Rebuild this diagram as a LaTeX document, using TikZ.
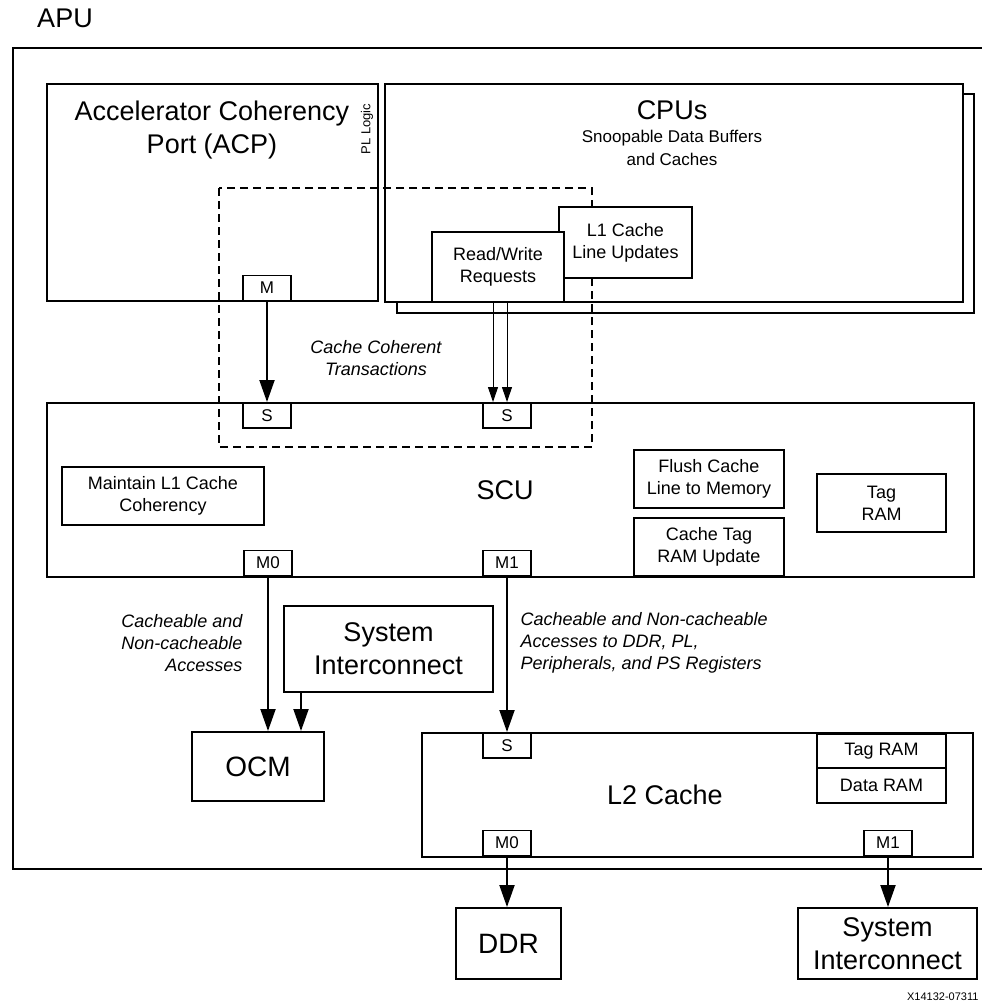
\documentclass[tikz,border=0pt]{standalone}
\usepackage{fontspec}
\setmainfont{Liberation Sans}
\usetikzlibrary{arrows.meta}

\begin{document}
\begin{tikzpicture}[
    x=1pt, y=-1pt,
    block/.style={draw, line width=2pt, fill=white, inner sep=0pt, anchor=north west, align=center},
    port/.style={draw, line width=1.5pt, fill=white, inner sep=0pt, minimum width=48pt, minimum height=25pt, font=\fontsize{17}{18}\selectfont},
    big/.style={font=\fontsize{27}{33}\selectfont, align=center},
    small/.style={font=\fontsize{18}{22}\selectfont},
    note/.style={font=\itshape\fontsize{18}{22}\selectfont},
    bus/.style={-{Triangle[length=22pt,width=15pt]}, line width=2pt},
    req/.style={-{Triangle[length=15pt,width=10pt]}, line width=1pt}
]
\clip (0,0) rectangle (982,1007);

% APU frame
\node[big] (apulbl) at (65,18) {APU};
\node[block, minimum width=988pt, minimum height=821pt] (apu) at (12,47) {};

% ACP and CPUs
\node[block, minimum width=331pt, minimum height=217pt] (acp) at (46,83) {};
\node[big] (acplbl) at (212,130) {Accelerator Coherency\\Port (ACP)};
\node[font=\fontsize{13}{15}\selectfont, rotate=90] (pl) at (367,129) {PL Logic};
\node[block, minimum width=577pt, minimum height=219pt] (cpuback) at (396,93) {};
\node[block, minimum width=578pt, minimum height=218pt] (cpu) at (384,83) {};
\node[big] (cpulbl) at (672,110) {CPUs};
\node[font=\fontsize{17}{23}\selectfont, align=center] (snoop) at (672,148) {Snoopable Data Buffers\\and Caches};

% SCU
\node[block, minimum width=927pt, minimum height=174pt] (scu) at (46,402) {};
\node[big] (scului) at (505,490) {SCU};

% Coherent path
\draw[line width=2pt, dash pattern=on 8pt off 5pt] (219,188) rectangle (592,447);
\node[block, small, minimum width=133pt, minimum height=71pt] (l1) at (558,206) {L1 Cache\\Line Updates};
\node[block, small, minimum width=132pt, minimum height=70pt] (rw) at (431,231) {Read/Write\\Requests};
\node[note, align=center] (coh) at (376,358) {Cache Coherent\\Transactions};

% SCU contents
\node[block, small, minimum width=202pt, minimum height=58pt] (maint) at (61,466) {Maintain L1 Cache\\Coherency};
\node[block, small, minimum width=150pt, minimum height=58pt] (flush) at (633,449) {Flush Cache\\Line to Memory};
\node[block, small, minimum width=150pt, minimum height=58pt] (ctag) at (633,517) {Cache Tag\\RAM Update};
\node[block, small, minimum width=129pt, minimum height=58pt] (scutag) at (816,473) {Tag\\RAM};

% Ports
\node[port, anchor=south] (acpM) at (267,301) {M};
\node[port, anchor=north] (scuS1) at (267,402) {S};
\node[port, anchor=north] (scuS2) at (507,402) {S};
\node[port, anchor=south] (scuM0) at (268,576) {M0};
\node[port, anchor=south] (scuM1) at (507,576) {M1};

% Requests into SCU
\draw[bus] (acpM.south) -- (scuS1.north);
\path (scuS2.north) ++(-14,0) coordinate (sA);
\draw[req] (sA |- rw.south) -- (sA);
\draw[req] (scuS2.north |- rw.south) -- (scuS2.north);

% OCM side
\node[block, big, minimum width=209pt, minimum height=86pt] (sysint) at (283,605) {System\\Interconnect};
\node[block, font=\fontsize{28}{30}\selectfont, minimum width=132pt, minimum height=69pt] (ocm) at (191,731) {OCM};
\node[note, anchor=east, align=right] (accl) at (246,643) {Cacheable and\\Non-cacheable\\Accesses};
\draw[bus] (scuM0.south) -- (scuM0.south |- ocm.north);
\coordinate (siTap) at ([xshift=18pt]sysint.south west);
\draw[bus] (siTap) -- (siTap |- ocm.north);

% L2 cache
\node[block, minimum width=551pt, minimum height=124pt] (l2) at (421,732) {};
\node[big] (l2lbl) at (665,795) {L2 Cache};
\node[block, small, minimum width=129pt, minimum height=34pt] (l2tag) at (816,733) {Tag RAM};
\node[block, small, minimum width=129pt, minimum height=35pt] (l2data) at (816,767) {Data RAM};
\node[port, anchor=north] (l2S) at (507,732) {S};
\node[port, anchor=south] (l2M0) at (507,856) {M0};
\node[port, anchor=south] (l2M1) at (888,856) {M1};
\node[note, anchor=west, align=left] (accr) at (517,643) {Cacheable and Non-cacheable\\Accesses to DDR, PL,\\Peripherals, and PS Registers};
\draw[bus] (scuM1.south) -- (l2S.north);

% Outside the APU
\node[block, font=\fontsize{28}{30}\selectfont, minimum width=105pt, minimum height=71pt] (ddr) at (455,907) {DDR};
\node[block, big, minimum width=179pt, minimum height=71pt] (sysout) at (797,907) {System\\Interconnect};
\draw[bus] (l2M0.south) -- (l2M0.south |- ddr.north);
\draw[bus] (l2M1.south) -- (l2M1.south |- sysout.north);

\node[font=\fontsize{11}{13}\selectfont, anchor=east] (fig) at (982,997) {X14132-07311};
\end{tikzpicture}
\end{document}
